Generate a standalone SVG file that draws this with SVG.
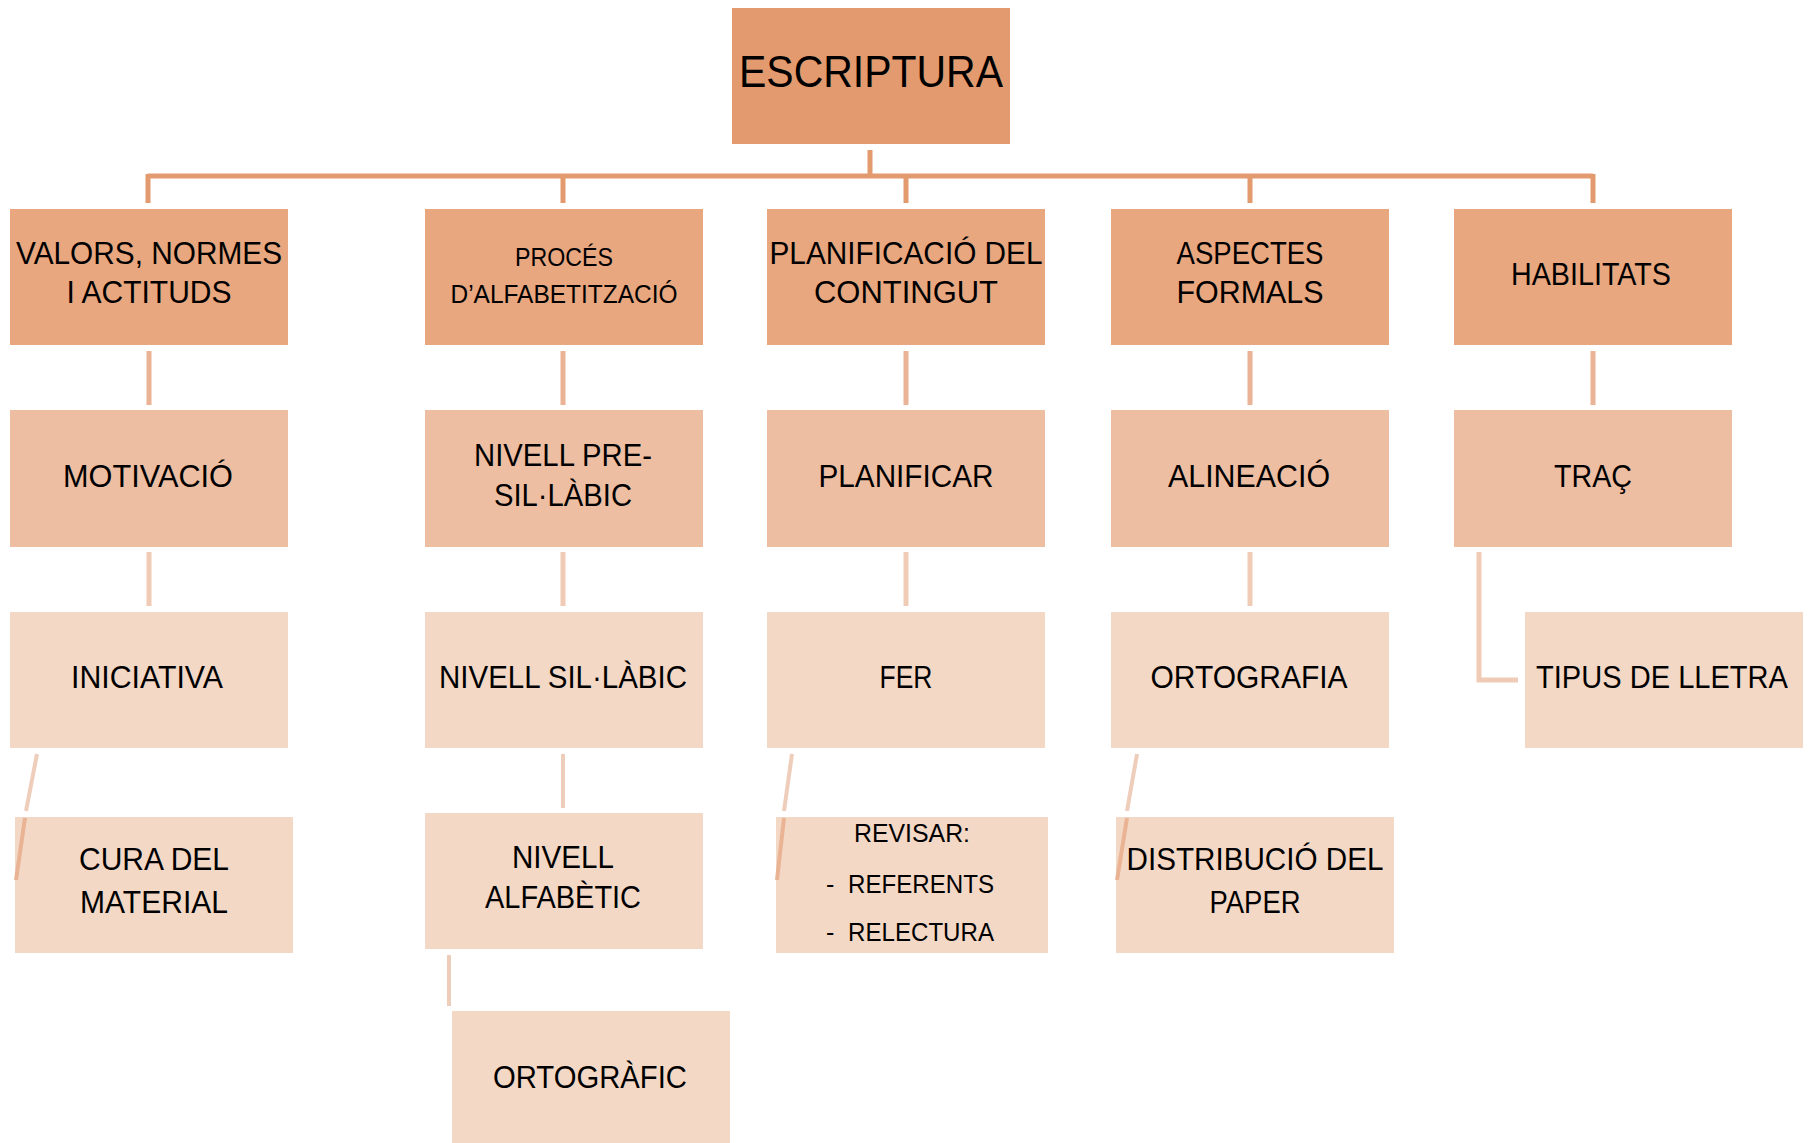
<svg xmlns="http://www.w3.org/2000/svg" width="1814" height="1143" viewBox="0 0 1814 1143">
<style>
.t{font-family:"Liberation Sans",Arial,sans-serif;fill:#000;text-anchor:middle;font-size:32px}
.big{font-size:45px}
.sm{font-size:25px}
.r{fill:#E39A6E}
.l1{fill:#E8A77F}
.l2{fill:#EEBEA2}
.l3{fill:#F3D8C6}
.c0{stroke:#E39A6E;stroke-width:5;fill:none}
.c1{stroke:#EAB396;stroke-width:5;fill:none}
.c2{stroke:#F0CBB6;stroke-width:5;fill:none}
.c3{stroke:#EFCDBB;stroke-width:4;fill:none}
.c4{stroke:#E9B394;stroke-width:4;fill:none}
</style>
<rect width="1814" height="1143" fill="#fff"/>
<g id="connectors">
<path class="c0" d="M870,150V176M148,176H1593M148,174V203M563,174V203M906,174V203M1250,174V203M1593,174V203"/>
<path class="c1" d="M149,351V405M563,351V405M906,351V405M1250,351V405M1593,351V405"/>
<path class="c2" d="M149,552V606M563,552V606M906,552V606M1250,552V606"/>
<path class="c2" d="M1479,552V680H1518"/>
<path class="c3" d="M563,754V808M449,955V1006"/>
<path class="c3" d="M37,754L26,811M792,754L784,811M1137,754L1127,811"/>
</g>
<g id="root"><rect class="r" x="732" y="8" width="278" height="136"/><text class="t big" x="871" y="87" textLength="264" lengthAdjust="spacingAndGlyphs">ESCRIPTURA</text></g>
<g id="valors"><rect class="l1" x="10" y="209" width="278" height="136"/><text class="t" x="149" y="264" textLength="266" lengthAdjust="spacingAndGlyphs">VALORS, NORMES</text><text class="t" x="149" y="303" textLength="165" lengthAdjust="spacingAndGlyphs">I ACTITUDS</text></g>
<g id="proces"><rect class="l1" x="425" y="209" width="278" height="136"/><text class="t sm" x="564" y="266" textLength="98" lengthAdjust="spacingAndGlyphs">PROCÉS</text><text class="t sm" x="564" y="303" textLength="227" lengthAdjust="spacingAndGlyphs">D’ALFABETITZACIÓ</text></g>
<g id="planificacio"><rect class="l1" x="767" y="209" width="278" height="136"/><text class="t" x="906" y="264" textLength="273" lengthAdjust="spacingAndGlyphs">PLANIFICACIÓ DEL</text><text class="t" x="906" y="303" textLength="184" lengthAdjust="spacingAndGlyphs">CONTINGUT</text></g>
<g id="aspectes"><rect class="l1" x="1111" y="209" width="278" height="136"/><text class="t" x="1250" y="264" textLength="147" lengthAdjust="spacingAndGlyphs">ASPECTES</text><text class="t" x="1250" y="303" textLength="147" lengthAdjust="spacingAndGlyphs">FORMALS</text></g>
<g id="habilitats"><rect class="l1" x="1454" y="209" width="278" height="136"/><text class="t" x="1591" y="285" textLength="160" lengthAdjust="spacingAndGlyphs">HABILITATS</text></g>
<g id="motivacio"><rect class="l2" x="10" y="410" width="278" height="137"/><text class="t" x="148" y="487" textLength="170" lengthAdjust="spacingAndGlyphs">MOTIVACIÓ</text></g>
<g id="presil"><rect class="l2" x="425" y="410" width="278" height="137"/><text class="t" x="563" y="466" textLength="178" lengthAdjust="spacingAndGlyphs">NIVELL PRE-</text><text class="t" x="563" y="506" textLength="138" lengthAdjust="spacingAndGlyphs">SIL·LÀBIC</text></g>
<g id="planificar"><rect class="l2" x="767" y="410" width="278" height="137"/><text class="t" x="906" y="487" textLength="175" lengthAdjust="spacingAndGlyphs">PLANIFICAR</text></g>
<g id="alineacio"><rect class="l2" x="1111" y="410" width="278" height="137"/><text class="t" x="1249" y="487" textLength="162" lengthAdjust="spacingAndGlyphs">ALINEACIÓ</text></g>
<g id="trac"><rect class="l2" x="1454" y="410" width="278" height="137"/><text class="t" x="1593" y="487" textLength="78" lengthAdjust="spacingAndGlyphs">TRAÇ</text></g>
<g id="iniciativa"><rect class="l3" x="10" y="612" width="278" height="136"/><text class="t" x="147" y="688" textLength="152" lengthAdjust="spacingAndGlyphs">INICIATIVA</text></g>
<g id="sil"><rect class="l3" x="425" y="612" width="278" height="136"/><text class="t" x="563" y="688" textLength="248" lengthAdjust="spacingAndGlyphs">NIVELL SIL·LÀBIC</text></g>
<g id="fer"><rect class="l3" x="767" y="612" width="278" height="136"/><text class="t" x="906" y="688" textLength="53" lengthAdjust="spacingAndGlyphs">FER</text></g>
<g id="ortografia"><rect class="l3" x="1111" y="612" width="278" height="136"/><text class="t" x="1249" y="688" textLength="197" lengthAdjust="spacingAndGlyphs">ORTOGRAFIA</text></g>
<g id="tipus"><rect class="l3" x="1525" y="612" width="278" height="136"/><text class="t" x="1662" y="688" textLength="252" lengthAdjust="spacingAndGlyphs">TIPUS DE LLETRA</text></g>
<g id="cura"><rect class="l3" x="15" y="817" width="278" height="136"/><path class="c4" d="M25,818L16,880"/><text class="t" x="154" y="870" textLength="150" lengthAdjust="spacingAndGlyphs">CURA DEL</text><text class="t" x="154" y="913" textLength="148" lengthAdjust="spacingAndGlyphs">MATERIAL</text></g>
<g id="alfabetic"><rect class="l3" x="425" y="813" width="278" height="136"/><text class="t" x="563" y="868" textLength="102" lengthAdjust="spacingAndGlyphs">NIVELL</text><text class="t" x="563" y="908" textLength="156" lengthAdjust="spacingAndGlyphs">ALFABÈTIC</text></g>
<g id="revisar"><rect class="l3" x="776" y="817" width="272" height="136"/><path class="c4" d="M784,818L777,880"/><text class="t sm" x="912" y="842" textLength="116" lengthAdjust="spacingAndGlyphs">REVISAR:</text><text class="t sm" y="893" style="text-anchor:start"><tspan x="826">-</tspan><tspan x="848" textLength="146" lengthAdjust="spacingAndGlyphs">REFERENTS</tspan></text><text class="t sm" y="941" style="text-anchor:start"><tspan x="826">-</tspan><tspan x="848" textLength="146" lengthAdjust="spacingAndGlyphs">RELECTURA</tspan></text></g>
<g id="distribucio"><rect class="l3" x="1116" y="817" width="278" height="136"/><path class="c4" d="M1127,818L1117,880"/><text class="t" x="1255" y="870" textLength="257" lengthAdjust="spacingAndGlyphs">DISTRIBUCIÓ DEL</text><text class="t" x="1255" y="913" textLength="91" lengthAdjust="spacingAndGlyphs">PAPER</text></g>
<g id="ortografic"><rect class="l3" x="452" y="1011" width="278" height="132"/><text class="t" x="590" y="1088" textLength="194" lengthAdjust="spacingAndGlyphs">ORTOGRÀFIC</text></g>
</svg>
